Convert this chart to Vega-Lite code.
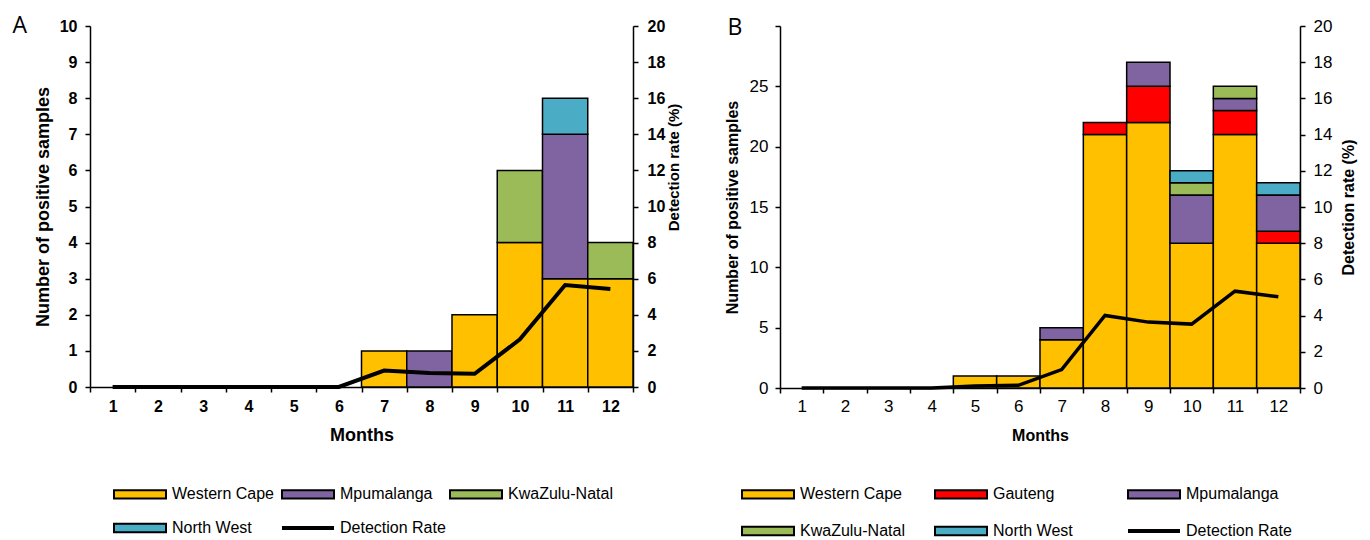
{
  "$schema": "https://vega.github.io/schema/vega-lite/v6.json",
  "background": "white",
  "padding": {"left": 12, "top": 14, "right": 5, "bottom": 0},
  "config": {
    "view": {"stroke": null},
    "font": "Liberation Sans",
    "axis": {"domainColor": "black", "tickColor": "black", "labelColor": "black", "titleColor": "black", "grid": false, "domainWidth": 1.5, "tickWidth": 1.5, "tickSize": 5, "labelFont": "Liberation Sans", "titleFont": "Liberation Sans"},
    "legend": {"labelColor": "black", "labelFont": "Liberation Sans"}
  },
  "datasets": {
    "countsA": [
      {"month": 7, "region": "Western Cape", "count": 1},
      {"month": 8, "region": "Mpumalanga", "count": 1},
      {"month": 9, "region": "Western Cape", "count": 2},
      {"month": 10, "region": "Western Cape", "count": 4},
      {"month": 10, "region": "KwaZulu-Natal", "count": 2},
      {"month": 11, "region": "Western Cape", "count": 3},
      {"month": 11, "region": "Mpumalanga", "count": 4},
      {"month": 11, "region": "North West", "count": 1},
      {"month": 12, "region": "Western Cape", "count": 3},
      {"month": 12, "region": "KwaZulu-Natal", "count": 1}
    ],
    "rateA": [
      {"month": 1, "rate": 0}, {"month": 2, "rate": 0}, {"month": 3, "rate": 0},
      {"month": 4, "rate": 0}, {"month": 5, "rate": 0}, {"month": 6, "rate": 0},
      {"month": 7, "rate": 0.91}, {"month": 8, "rate": 0.78}, {"month": 9, "rate": 0.73},
      {"month": 10, "rate": 2.64}, {"month": 11, "rate": 5.65}, {"month": 12, "rate": 5.43}
    ],
    "countsB": [
      {"month": 5, "region": "Western Cape", "count": 1},
      {"month": 6, "region": "Western Cape", "count": 1},
      {"month": 7, "region": "Western Cape", "count": 4},
      {"month": 7, "region": "Mpumalanga", "count": 1},
      {"month": 8, "region": "Western Cape", "count": 21},
      {"month": 8, "region": "Gauteng", "count": 1},
      {"month": 9, "region": "Western Cape", "count": 22},
      {"month": 9, "region": "Gauteng", "count": 3},
      {"month": 9, "region": "Mpumalanga", "count": 2},
      {"month": 10, "region": "Western Cape", "count": 12},
      {"month": 10, "region": "Mpumalanga", "count": 4},
      {"month": 10, "region": "KwaZulu-Natal", "count": 1},
      {"month": 10, "region": "North West", "count": 1},
      {"month": 11, "region": "Western Cape", "count": 21},
      {"month": 11, "region": "Gauteng", "count": 2},
      {"month": 11, "region": "Mpumalanga", "count": 1},
      {"month": 11, "region": "KwaZulu-Natal", "count": 1},
      {"month": 12, "region": "Western Cape", "count": 12},
      {"month": 12, "region": "Gauteng", "count": 1},
      {"month": 12, "region": "Mpumalanga", "count": 3},
      {"month": 12, "region": "North West", "count": 1}
    ],
    "rateB": [
      {"month": 1, "rate": 0}, {"month": 2, "rate": 0}, {"month": 3, "rate": 0},
      {"month": 4, "rate": 0}, {"month": 5, "rate": 0.11}, {"month": 6, "rate": 0.15},
      {"month": 7, "rate": 1.02}, {"month": 8, "rate": 4.01}, {"month": 9, "rate": 3.64},
      {"month": 10, "rate": 3.53}, {"month": 11, "rate": 5.35}, {"month": 12, "rate": 5.04}
    ]
  },
  "spacing": 42,
  "resolve": {"scale": {"color": "independent"}, "legend": {"color": "independent"}},
  "hconcat": [
    {
      "width": 543,
      "height": 361,
      "layer": [
        {
          "data": {"name": "countsA"},
          "transform": [{"calculate": "indexof(['Western Cape','Gauteng','Mpumalanga','KwaZulu-Natal','North West'], datum.region)", "as": "ord"}],
          "mark": {"type": "bar", "stroke": "black", "strokeWidth": 1.5},
          "encoding": {
            "x": {"field": "month", "type": "ordinal",
              "scale": {"domain": [1,2,3,4,5,6,7,8,9,10,11,12], "paddingInner": 0, "paddingOuter": 0},
              "axis": {"title": "Months", "labelAngle": 0, "tickBand": "extent", "labelFontSize": 16, "labelFontWeight": "bold", "labelPadding": 6, "titleFontSize": 18, "titleFontWeight": "bold", "titlePadding": 12}},
            "y": {"field": "count", "type": "quantitative", "scale": {"domain": [0, 10]},
              "axis": {"title": "Number of positive samples", "values": [0,1,2,3,4,5,6,7,8,9,10], "labelFontSize": 16, "labelFontWeight": "bold", "labelPadding": 8, "titleFontSize": 18, "titleFontWeight": "bold", "titlePadding": 7}},
            "color": {"field": "region", "type": "nominal",
              "scale": {"domain": ["Western Cape", "Mpumalanga", "KwaZulu-Natal", "North West", "Detection Rate"], "range": ["#FFC000", "#8064A2", "#9BBB59", "#4BACC6", "#000000"]},
              "legend": {"orient": "none", "legendX": 42, "legendY": 460, "direction": "horizontal", "columns": 3, "title": null, "gridAlign": "all", "columnPadding": -4, "rowPadding": 16, "symbolSize": 2704, "labelFontSize": 16, "labelOffset": 24,
                "symbolType": {"expr": "datum.value === 'Detection Rate' ? 'stroke' : 'M-1,-0.16H1V0.16H-1Z'"},
                "symbolStrokeWidth": {"expr": "datum.value === 'Detection Rate' ? 4 : 2"},
                "symbolStrokeColor": "black"}},
            "order": {"field": "ord", "type": "quantitative"}
          }
        },
        {
          "data": {"name": "rateA"},
          "mark": {"type": "line", "color": "black", "strokeWidth": 4},
          "encoding": {
            "x": {"field": "month", "type": "ordinal",
              "scale": {"domain": [1,2,3,4,5,6,7,8,9,10,11,12], "paddingInner": 0, "paddingOuter": 0},
              "axis": {"orient": "top", "domain": false, "ticks": false, "labels": false, "title": "A", "titleX": -78, "titleY": 6, "titleAngle": 0, "titleAlign": "left", "titleBaseline": "alphabetic", "titleFont": "Open Sans", "titleFontSize": 23, "titleFontWeight": "normal"}},
            "y": {"field": "rate", "type": "quantitative", "scale": {"domain": [0, 20]},
              "axis": {"orient": "right", "title": "Detection rate (%)", "values": [0,2,4,6,8,10,12,14,16,18,20], "labelFontSize": 16, "labelFontWeight": "bold", "labelPadding": 9, "titleFontSize": 15, "titleFontWeight": "bold", "titlePadding": 2, "titleAngle": 270, "titleBaseline": "top", "titleY": 141}}
          }
        }
      ],
      "resolve": {"scale": {"y": "independent", "x": "independent"}}
    },
    {
      "width": 520,
      "height": 362,
      "layer": [
        {
          "data": {"name": "countsB"},
          "transform": [{"calculate": "indexof(['Western Cape','Gauteng','Mpumalanga','KwaZulu-Natal','North West'], datum.region)", "as": "ord"}],
          "mark": {"type": "bar", "stroke": "black", "strokeWidth": 1.5},
          "encoding": {
            "x": {"field": "month", "type": "ordinal",
              "scale": {"domain": [1,2,3,4,5,6,7,8,9,10,11,12], "paddingInner": 0, "paddingOuter": 0},
              "axis": {"title": "Months", "labelAngle": 0, "tickBand": "extent", "labelFontSize": 17, "labelPadding": 5, "titleFontSize": 16, "titleFontWeight": "bold", "titlePadding": 13}},
            "y": {"field": "count", "type": "quantitative", "scale": {"domain": [0, 30]},
              "axis": {"title": "Number of positive samples", "values": [0,5,10,15,20,25,30], "labelExpr": "datum.value == 30 ? '' : datum.label", "labelFontSize": 17, "labelPadding": 7, "titleFontSize": 16, "titleFontWeight": "bold", "titlePadding": 9}},
            "color": {"field": "region", "type": "nominal",
              "scale": {"domain": ["Western Cape", "Gauteng", "Mpumalanga", "KwaZulu-Natal", "North West", "Detection Rate"], "range": ["#FFC000", "#FF0000", "#8064A2", "#9BBB59", "#4BACC6", "#000000"]},
              "legend": {"orient": "none", "legendX": -20, "legendY": 460, "direction": "horizontal", "columns": 3, "title": null, "gridAlign": "all", "columnPadding": 21, "rowPadding": 19, "symbolSize": 2704, "labelFontSize": 16, "labelOffset": 24,
                "symbolType": {"expr": "datum.value === 'Detection Rate' ? 'stroke' : 'M-1,-0.16H1V0.16H-1Z'"},
                "symbolStrokeWidth": {"expr": "datum.value === 'Detection Rate' ? 4 : 2"},
                "symbolStrokeColor": "black"}},
            "order": {"field": "ord", "type": "quantitative"}
          }
        },
        {
          "data": {"name": "rateB"},
          "mark": {"type": "line", "color": "black", "strokeWidth": 3.5},
          "encoding": {
            "x": {"field": "month", "type": "ordinal",
              "scale": {"domain": [1,2,3,4,5,6,7,8,9,10,11,12], "paddingInner": 0, "paddingOuter": 0},
              "axis": {"orient": "top", "domain": false, "ticks": false, "labels": false, "title": "B", "titleX": -53, "titleY": 8, "titleAngle": 0, "titleAlign": "left", "titleBaseline": "alphabetic", "titleFont": "Open Sans", "titleFontSize": 23, "titleFontWeight": "normal"}},
            "y": {"field": "rate", "type": "quantitative", "scale": {"domain": [0, 20]},
              "axis": {"orient": "right", "title": "Detection rate (%)", "values": [0,2,4,6,8,10,12,14,16,18,20], "labelFontSize": 17, "labelPadding": 8, "titleFontSize": 16, "titleFontWeight": "bold", "titlePadding": 9, "titleAngle": 270, "titleBaseline": "top"}}
          }
        }
      ],
      "resolve": {"scale": {"y": "independent", "x": "independent"}}
    }
  ]
}
